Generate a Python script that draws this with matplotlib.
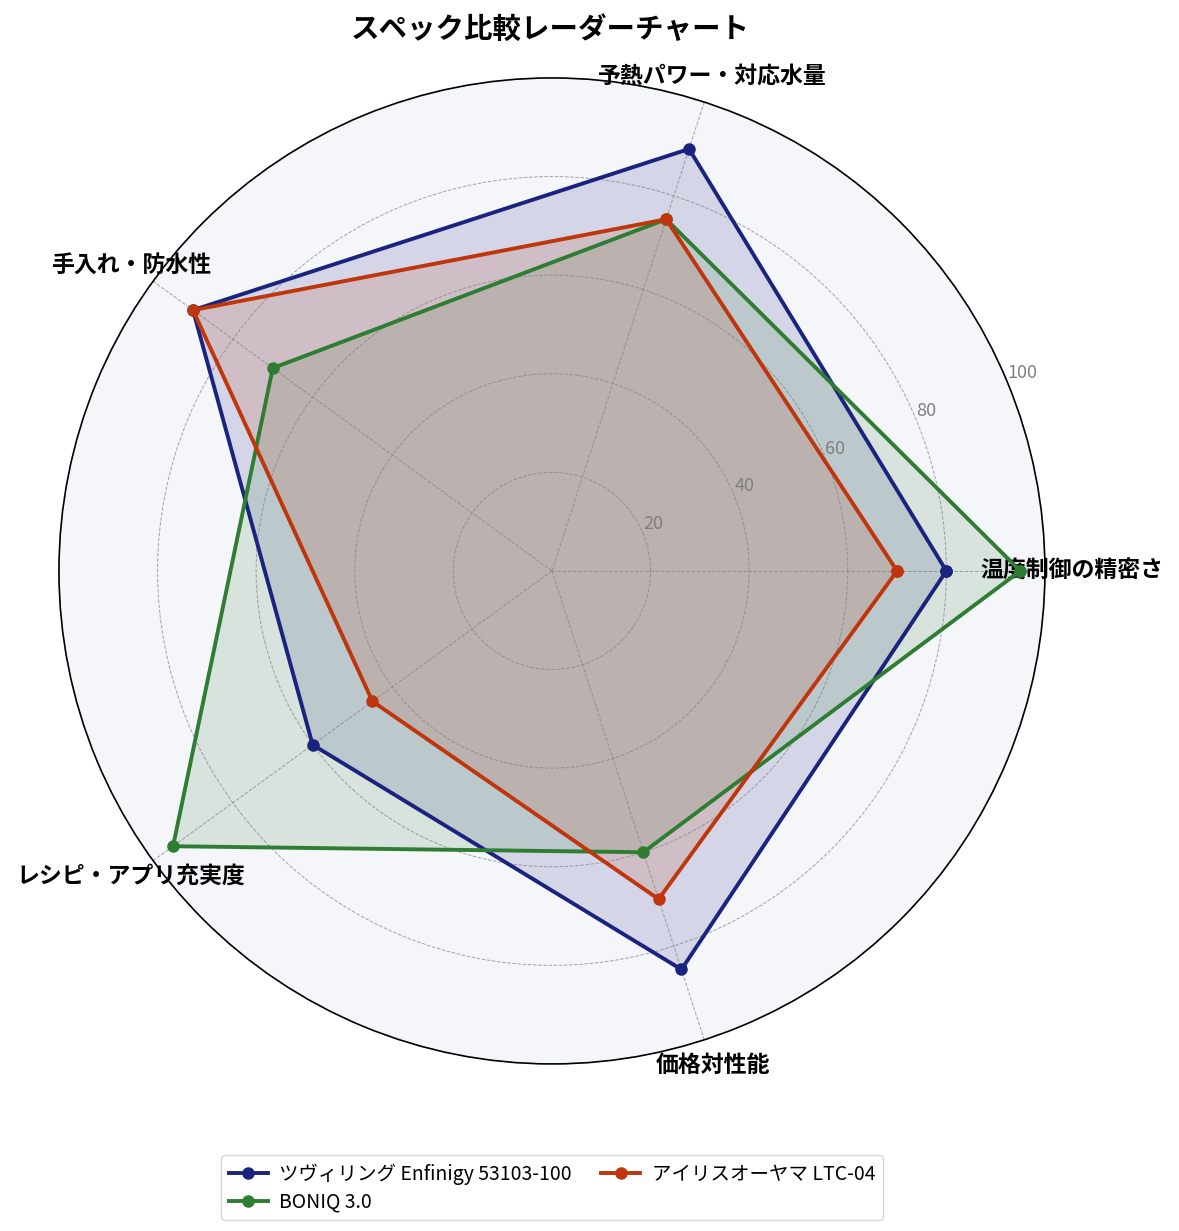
import numpy as np
import matplotlib
matplotlib.use("Agg")
import matplotlib.pyplot as plt

plt.rcParams['font.family'] = ['Noto Sans CJK JP', 'DejaVu Sans']

categories = ["温度制御の精密さ", "予熱パワー・対応水量", "手入れ・防水性", "レシピ・アプリ充実度", "価格対性能"]
series_names = ["ツヴィリング Enfinigy 53103-100", "BONIQ 3.0", "アイリスオーヤマ LTC-04"]
zwilling = [80, 90, 90, 60, 85]
boniq = [95, 75, 70, 95, 60]
iris = [70, 75, 90, 45, 70]
colors = ["#1a237e", "#2e7d32", "#bf360c"]
r_ticks = [20, 40, 60, 80, 100]

fig = plt.figure(figsize=(11.79, 12.31), dpi=100)
ax = fig.add_axes([0.050, 0.1357, 0.8363, 0.801], projection='polar')
ax.set_facecolor('#f5f6fa')

n = len(categories)
angles = np.linspace(0, 2 * np.pi, n, endpoint=False)
closed = np.concatenate([angles, angles[:1]])

for name, vals, c in zip(series_names, [zwilling, boniq, iris], colors):
    v = list(vals) + [vals[0]]
    ax.plot(closed, v, color=c, linewidth=2.8, marker='o', markersize=8, label=name)
    ax.fill(closed, v, color=c, alpha=0.15)

ax.set_ylim(0, 100)
ax.set_yticks(r_ticks)
ax.set_yticklabels([str(t) for t in r_ticks], color='gray', fontsize=13)
ax.set_rlabel_position(22.5)
ax.set_xticks(angles)
ax.set_xticklabels(categories, fontsize=16.5, fontweight='bold')
ax.tick_params(axis='x', pad=9)
ax.grid(color='gray', linestyle='--', linewidth=0.7, alpha=0.7)
ax.spines['polar'].set_color('black')
ax.spines['polar'].set_linewidth(1.2)

fig.text(0.4665, 0.9755, "スペック比較レーダーチャート", ha='center', va='center',
         fontsize=20.5, fontweight='bold')

ax.legend(loc='upper center', bbox_to_anchor=(0.5, -0.083), ncol=2, fontsize=14,
          frameon=True, columnspacing=1.5, handletextpad=0.6, borderpad=0.4,
          labelspacing=0.35)

fig.savefig("out.png", dpi=100)
